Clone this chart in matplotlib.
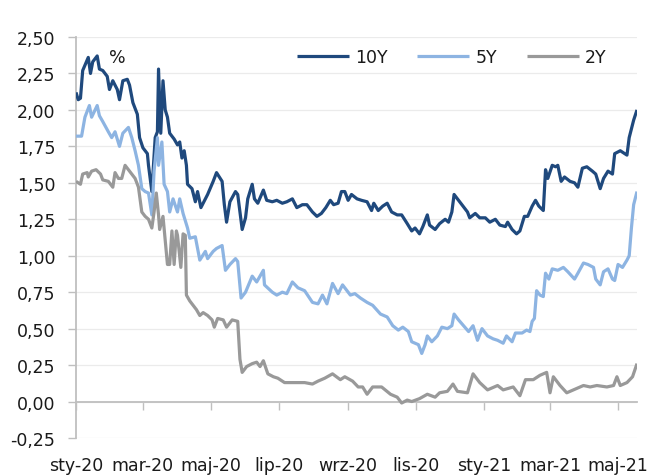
import numpy as np
import matplotlib
matplotlib.use("Agg")
import matplotlib.pyplot as plt
from matplotlib.ticker import FixedLocator, FuncFormatter

START = np.datetime64("2020-01-01")

# Polish government bond yields (%), sampled by days since 2020-01-01
days_10y = [0, 2, 4, 6, 11, 13, 15, 19, 21, 24, 28, 30, 33, 37, 39, 42, 46, 48, 51, 55,
            57, 60, 64, 65, 68, 71, 73, 74, 76, 78, 80, 82, 84, 88, 91, 93, 95, 97, 99, 100,
            104, 107, 109, 112, 116, 118, 123, 126, 131, 133, 135, 138, 143, 145, 149, 152, 154, 158, 160, 163,
            168, 171, 176, 180, 185, 189, 194, 198, 203, 207, 212, 216, 220, 224, 228, 231, 235, 238, 241, 244,
            247, 252, 256, 261, 265, 267, 271, 275, 279, 283, 288, 292, 297, 301, 304, 308, 311, 315, 317, 322,
            326, 331, 334, 337, 339, 343, 347, 351, 353, 358, 362, 367, 371, 376, 380, 385, 387, 391, 395, 398,
            402, 405, 409, 412, 415, 419, 421, 423, 427, 430, 432, 435, 438, 443, 447, 450, 454, 458, 463, 466,
            470, 473, 477, 481, 483, 488, 494, 496, 499, 500, 503]
yld_10y = [2.12, 2.07, 2.08, 2.27, 2.36, 2.25, 2.33, 2.37, 2.28, 2.27, 2.23, 2.14, 2.20, 2.14, 2.07, 2.20, 2.21, 2.17, 2.05, 1.97,
           1.81, 1.74, 1.70, 1.62, 1.44, 1.81, 1.85, 2.28, 1.84, 2.20, 2.00, 1.95, 1.84, 1.80, 1.76, 1.78, 1.67, 1.72, 1.62, 1.49,
           1.46, 1.37, 1.44, 1.33, 1.39, 1.42, 1.51, 1.57, 1.51, 1.35, 1.23, 1.37, 1.44, 1.42, 1.18, 1.26, 1.39, 1.49, 1.39, 1.36,
           1.45, 1.38, 1.37, 1.38, 1.36, 1.37, 1.39, 1.33, 1.35, 1.35, 1.30, 1.27, 1.29, 1.33, 1.38, 1.35, 1.36, 1.44, 1.44, 1.38,
           1.42, 1.39, 1.38, 1.37, 1.31, 1.36, 1.31, 1.34, 1.36, 1.30, 1.28, 1.28, 1.22, 1.17, 1.19, 1.15, 1.20, 1.28, 1.21, 1.18,
           1.22, 1.25, 1.23, 1.30, 1.42, 1.38, 1.34, 1.30, 1.26, 1.29, 1.26, 1.26, 1.23, 1.25, 1.21, 1.20, 1.23, 1.18, 1.15, 1.17,
           1.27, 1.27, 1.34, 1.38, 1.34, 1.31, 1.59, 1.53, 1.62, 1.61, 1.62, 1.51, 1.54, 1.51, 1.50, 1.47, 1.60, 1.61, 1.58, 1.56,
           1.46, 1.53, 1.58, 1.56, 1.70, 1.72, 1.69, 1.81, 1.90, 1.93, 2.00]

days_5y = [0, 5, 8, 12, 14, 19, 21, 24, 29, 32, 35, 39, 42, 47, 50, 53, 56, 59, 62, 65,
           68, 70, 73, 74, 77, 79, 82, 84, 87, 91, 93, 96, 100, 102, 107, 111, 116, 118, 123, 126,
           131, 134, 138, 143, 145, 148, 152, 158, 162, 168, 169, 176, 180, 185, 189, 194, 199, 205, 212, 217,
           221, 225, 230, 235, 239, 246, 250, 255, 261, 266, 273, 279, 284, 289, 293, 298, 301, 304, 307, 310,
           313, 315, 319, 324, 328, 333, 337, 339, 343, 352, 356, 360, 364, 369, 374, 378, 383, 386, 391, 394,
           400, 404, 407, 409, 411, 413, 416, 419, 421, 424, 427, 432, 437, 441, 447, 450, 455, 459, 464, 466,
           470, 473, 477, 481, 483, 486, 490, 494, 496, 498, 500, 503]
yld_5y = [1.82, 1.82, 1.95, 2.03, 1.95, 2.03, 1.96, 1.92, 1.85, 1.81, 1.85, 1.75, 1.84, 1.88, 1.81, 1.72, 1.62, 1.46, 1.44, 1.43,
          1.28, 1.58, 1.81, 1.62, 1.78, 1.49, 1.44, 1.30, 1.39, 1.30, 1.39, 1.29, 1.19, 1.12, 1.13, 0.97, 1.03, 0.98, 1.03, 1.05,
          1.07, 0.90, 0.94, 0.98, 0.96, 0.71, 0.75, 0.86, 0.82, 0.90, 0.80, 0.75, 0.73, 0.75, 0.74, 0.82, 0.78, 0.76, 0.68, 0.67,
          0.73, 0.67, 0.81, 0.74, 0.80, 0.73, 0.74, 0.71, 0.68, 0.66, 0.60, 0.58, 0.52, 0.49, 0.51, 0.48, 0.41, 0.40, 0.39, 0.33,
          0.39, 0.45, 0.41, 0.45, 0.51, 0.50, 0.52, 0.60, 0.56, 0.48, 0.52, 0.42, 0.50, 0.45, 0.43, 0.42, 0.40, 0.45, 0.41, 0.47,
          0.47, 0.49, 0.48, 0.55, 0.57, 0.76, 0.73, 0.72, 0.88, 0.84, 0.91, 0.90, 0.92, 0.89, 0.84, 0.88, 0.95, 0.94, 0.92, 0.84,
          0.80, 0.89, 0.91, 0.84, 0.83, 0.94, 0.92, 0.97, 1.00, 1.19, 1.35, 1.44]

days_2y = [0, 4, 6, 10, 11, 14, 18, 22, 24, 29, 33, 35, 38, 41, 44, 48, 53, 56, 59, 62,
           65, 68, 70, 72, 74, 75, 78, 82, 84, 86, 88, 90, 91, 94, 96, 98, 99, 102, 105, 108,
           111, 114, 118, 122, 124, 127, 132, 135, 140, 145, 147, 149, 153, 158, 162, 165, 168, 172, 177, 181,
           187, 194, 199, 205, 212, 217, 223, 230, 237, 241, 248, 253, 257, 261, 266, 274, 282, 288, 292, 297,
           301, 308, 315, 322, 326, 333, 338, 342, 351, 356, 362, 369, 378, 383, 392, 398, 403, 410, 416, 422,
           425, 428, 434, 440, 446, 455, 461, 467, 476, 482, 485, 488, 494, 499, 503]
yld_2y = [1.51, 1.49, 1.56, 1.57, 1.54, 1.58, 1.59, 1.56, 1.52, 1.51, 1.47, 1.57, 1.53, 1.53, 1.62, 1.58, 1.53, 1.47, 1.30, 1.27,
          1.25, 1.19, 1.30, 1.43, 1.28, 1.18, 1.27, 0.94, 0.94, 1.17, 0.94, 1.17, 1.14, 0.92, 1.15, 1.14, 0.73, 0.69, 0.66, 0.63,
          0.59, 0.61, 0.59, 0.56, 0.51, 0.57, 0.56, 0.51, 0.56, 0.55, 0.29, 0.20, 0.24, 0.26, 0.27, 0.24, 0.28, 0.19, 0.17, 0.16,
          0.13, 0.13, 0.13, 0.13, 0.12, 0.14, 0.16, 0.19, 0.15, 0.17, 0.14, 0.10, 0.10, 0.05, 0.10, 0.10, 0.05, 0.03, -0.01, 0.01,
          0.00, 0.02, 0.05, 0.03, 0.06, 0.07, 0.12, 0.07, 0.06, 0.19, 0.13, 0.08, 0.11, 0.08, 0.10, 0.04, 0.15, 0.15, 0.18, 0.20,
          0.06, 0.17, 0.11, 0.06, 0.08, 0.11, 0.10, 0.11, 0.10, 0.11, 0.17, 0.11, 0.13, 0.17, 0.26]

series_names = ["10Y", "5Y", "2Y"]
series_colors = ["#1F497D", "#8DB4E2", "#999999"]

tick_months = ["2020-01-01", "2020-03-01", "2020-05-01", "2020-07-01", "2020-09-01",
               "2020-11-01", "2021-01-01", "2021-03-01", "2021-05-01"]
tick_labels = ["sty-20", "mar-20", "maj-20", "lip-20", "wrz-20",
               "lis-20", "sty-21", "mar-21", "maj-21"]
y_ticks = [-0.25, 0.0, 0.25, 0.5, 0.75, 1.0, 1.25, 1.5, 1.75, 2.0, 2.25, 2.5]
x_end = np.datetime64("2021-05-18")

plt.rcParams["font.family"] = ["DejaVu Sans"]
FS = 12.5
AXIS_GREY = "#BFBFBF"

fig = plt.figure(figsize=(6.52, 4.77), dpi=100)
ax = fig.add_axes([76 / 652, 1 - 439 / 477, (637 - 76) / 652, (439 - 38) / 477])


def to_dates(days):
    return START + np.array(days, dtype="timedelta64[D]")


for days, vals, name, col in zip([days_10y, days_5y, days_2y],
                                 [yld_10y, yld_5y, yld_2y],
                                 series_names, series_colors):
    ax.plot(to_dates(days), vals, color=col, lw=2.3, label=name,
            solid_joinstyle="round", solid_capstyle="butt", zorder=3)

ax.set_xlim(START, x_end)
ax.set_ylim(-0.25, 2.5)

# y axis
ax.yaxis.set_major_locator(FixedLocator(y_ticks))
ax.yaxis.set_major_formatter(FuncFormatter(lambda v, p: f"{v:.2f}".replace(".", ",")))
ax.tick_params(axis="y", direction="out", length=6, width=1, color=AXIS_GREY,
               labelsize=FS, pad=9, labelcolor="#1a1a1a")
ax.yaxis.grid(True, color="#EBEBEB", lw=0.9, zorder=0)
ax.set_axisbelow(True)

# x axis: tick marks on the zero line, labels at the bottom
tick_dates = np.array(tick_months, dtype="datetime64[D]")
ax.spines["bottom"].set_position(("data", 0))
ax.spines["bottom"].set_color(AXIS_GREY)
ax.spines["bottom"].set_linewidth(1.3)
ax.spines["left"].set_color(AXIS_GREY)
ax.spines["left"].set_linewidth(1.3)
ax.spines["top"].set_visible(False)
ax.spines["right"].set_visible(False)
ax.set_xticks(tick_dates)
ax.tick_params(axis="x", direction="out", length=6, width=1, color=AXIS_GREY,
               labelbottom=False)

sec = ax.secondary_xaxis("bottom")
sec.set_xticks(tick_dates, tick_labels)
sec.tick_params(length=0, pad=13, labelsize=FS, labelcolor="#1a1a1a")
sec.spines["bottom"].set_visible(False)

fig.text(117 / 652, 1 - 58 / 477, "%", fontsize=FS, color="#1a1a1a",
         ha="center", va="center")

leg = fig.legend(loc="center left", bbox_to_anchor=(297 / 652, 1 - 58 / 477),
                 ncol=3, frameon=False, fontsize=FS, handlelength=3.0,
                 handletextpad=0.35, columnspacing=1.7, borderpad=0,
                 borderaxespad=0)
for t in leg.get_texts():
    t.set_color("#1a1a1a")

fig.savefig("out.png", dpi=100)
